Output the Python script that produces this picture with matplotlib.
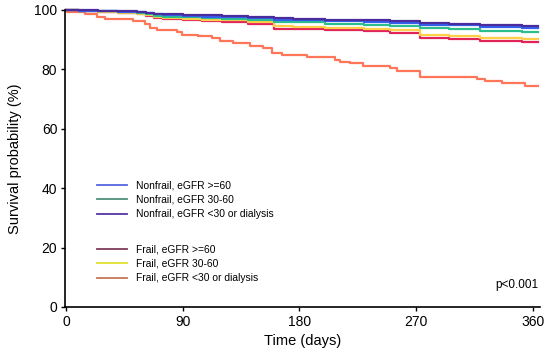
import numpy as np
import matplotlib
matplotlib.use("Agg")
import matplotlib.pyplot as plt
from matplotlib.lines import Line2D

plt.rcParams["font.family"] = ["Liberation Sans", "DejaVu Sans"]

# step times shared by the five upper curves (days); value = level from that time on
t_top = [0, 10, 25, 40, 55, 62, 68, 75, 90, 105, 120, 140, 160, 175,
         200, 230, 250, 273, 295, 319, 340, 352, 364]

surv_nonfrail_60 = [100, 99.8, 99.6, 99.4, 99.2, 98.9, 98.5, 98.3, 98.0, 97.8, 97.6, 97.3,
                    96.8, 96.6, 96.3, 96.0, 95.7, 95.0, 94.8, 94.4, 94.2, 94.0, 94.0]
surv_nonfrail_30_60 = [100, 99.8, 99.6, 99.3, 99.0, 98.6, 98.1, 97.8, 97.5, 97.3, 97.0, 96.6,
                       96.0, 95.8, 95.4, 95.0, 94.7, 93.8, 93.5, 93.0, 92.9, 92.7, 92.7]
surv_nonfrail_lt30 = [100, 99.9, 99.7, 99.5, 99.3, 99.1, 98.8, 98.6, 98.4, 98.2, 98.0, 97.7,
                      97.3, 97.1, 96.8, 96.5, 96.2, 95.5, 95.3, 94.9, 94.8, 94.6, 94.6]
surv_frail_60 = [100, 99.6, 99.3, 99.0, 98.6, 98.0, 97.3, 97.0, 96.7, 96.4, 96.1, 95.2,
                 93.7, 93.5, 93.2, 92.8, 92.4, 90.7, 90.2, 89.6, 89.4, 89.1, 89.1]
surv_frail_30_60 = [100, 99.7, 99.4, 99.1, 98.8, 98.2, 97.6, 97.3, 97.0, 96.8, 96.5, 95.8,
                    94.5, 94.3, 94.0, 93.6, 93.3, 91.6, 91.2, 90.7, 90.5, 90.2, 90.2]

t_frail_lt30 = [0, 1, 14.6, 23.6, 30, 51.9, 60.9, 64.8, 69.9, 85.3, 89.2, 102, 112.3, 118.7,
                129, 141.9, 152.1, 158.6, 166.3, 185.6, 207.4, 211.3, 219, 229.2, 249.8,
                255, 272.9, 316.7, 323, 335.9, 353.9, 364]
surv_frail_lt30 = [100, 99.4, 98.7, 97.8, 97.0, 96.4, 95.2, 93.8, 93.3, 92.5, 91.6, 91.2,
                   90.5, 89.7, 89.0, 87.9, 87.1, 85.6, 84.8, 84.1, 83.2, 82.6, 82.0, 81.3,
                   80.4, 79.5, 77.5, 76.8, 76.0, 75.3, 74.4, 74.4]

labels = ["Nonfrail, eGFR >=60", "Nonfrail, eGFR 30-60", "Nonfrail, eGFR <30 or dialysis",
          "Frail, eGFR >=60", "Frail, eGFR 30-60", "Frail, eGFR <30 or dialysis"]
line_colors = ["#3560ee", "#2cbf8c", "#4a2c9c", "#e0245a", "#ffcf48", "#ff7658"]
legend_colors = ["#5565e0", "#4f8f78", "#5535a5", "#7e3c5c", "#e2e030", "#c57a52"]

fig = plt.figure(figsize=(5.5, 3.58), dpi=100)
ax = fig.add_axes([65 / 550, 1 - 307 / 358, 475 / 550, 297 / 358])

# lower curves first so the upper ones sit on top
series = [
    (t_frail_lt30, surv_frail_lt30, line_colors[5]),
    (t_top, surv_frail_60, line_colors[3]),
    (t_top, surv_frail_30_60, line_colors[4]),
    (t_top, surv_nonfrail_30_60, line_colors[1]),
    (t_top, surv_nonfrail_60, line_colors[0]),
    (t_top, surv_nonfrail_lt30, line_colors[2]),
]
for t, s, c in series:
    ax.step(t, s, where="post", color=c, lw=1.6, clip_on=False)

ax.set_xlim(-0.8, 365.5)
ax.set_ylim(0, 100)
ax.set_xticks([0, 90, 180, 270, 360])
ax.set_yticks([0, 20, 40, 60, 80, 100])
ax.tick_params(direction="out", length=3, width=1, labelsize=10, pad=2.5)
for side in ["top", "right"]:
    ax.spines[side].set_visible(False)
for side in ["left", "bottom"]:
    ax.spines[side].set_linewidth(1.2)
ax.set_xlabel("Time (days)", fontsize=10.5, labelpad=4)
ax.set_ylabel("Survival probability (%)", fontsize=10.5, labelpad=9)

h1 = [Line2D([], [], color=legend_colors[i], lw=1.3) for i in range(3)]
h2 = [Line2D([], [], color=legend_colors[i], lw=1.3) for i in range(3, 6)]
leg_kw = dict(loc="upper left", frameon=False, fontsize=7.4, handlelength=3.0,
              handletextpad=0.8, labelspacing=0.43, borderaxespad=0)
leg1 = ax.legend(h1, labels[:3], bbox_to_anchor=(0.058, 0.44), **leg_kw)
ax.add_artist(leg1)
ax.legend(h2, labels[3:], bbox_to_anchor=(0.058, 0.225), **leg_kw)

ax.text(0.996, 0.075, "p<0.001", transform=ax.transAxes, ha="right", va="center", fontsize=8.5)

fig.savefig("out.png", dpi=100)
